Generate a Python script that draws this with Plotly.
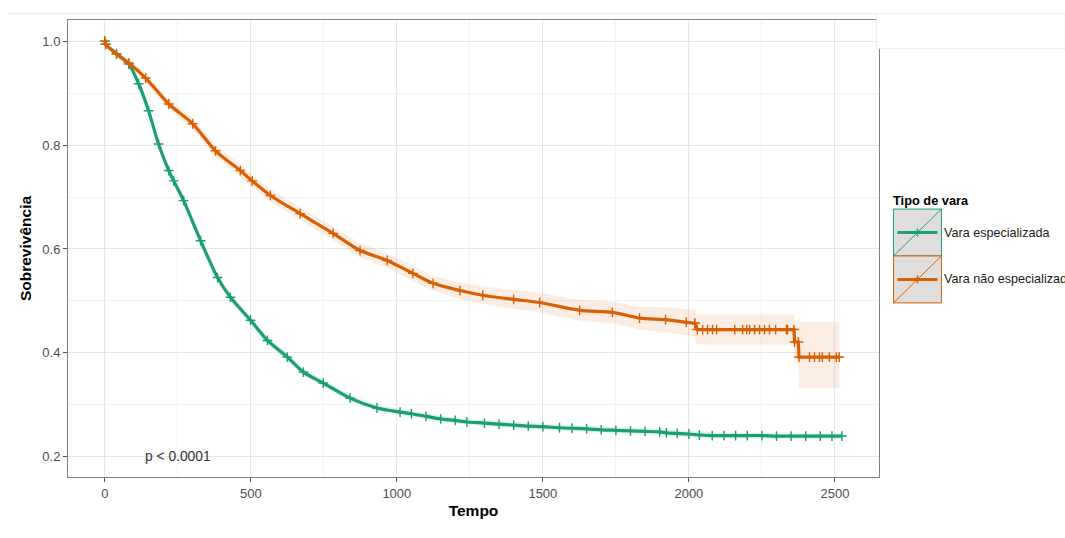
import numpy as np
import plotly.graph_objects as go

# ---------------- data ----------------
green_t = [0, 3, 40, 82, 116, 150, 184, 219, 236, 270, 328, 386, 430, 499, 557, 625, 680, 748, 840, 932,
           1011, 1050, 1100, 1150, 1200, 1240, 1300, 1350, 1400, 1450, 1500, 1557, 1600, 1650, 1700, 1750,
           1800, 1850, 1900, 1923, 1960, 2000, 2036, 2080, 2120, 2160, 2200, 2250, 2300, 2350, 2400, 2450,
           2490, 2524]
green_s = [1.0, 0.994, 0.976, 0.956, 0.918, 0.866, 0.802, 0.751, 0.731, 0.693, 0.616, 0.545, 0.507, 0.463,
           0.424, 0.392, 0.363, 0.342, 0.313, 0.294,
           0.286, 0.283, 0.278, 0.273, 0.270, 0.267, 0.265, 0.263, 0.261, 0.259, 0.258, 0.256, 0.255, 0.254,
           0.252, 0.251, 0.250, 0.249, 0.248, 0.246, 0.245, 0.244, 0.242, 0.241, 0.241, 0.241, 0.241, 0.241,
           0.240, 0.240, 0.240, 0.240, 0.240, 0.240]
green_hw = [0, 0.002, 0.004, 0.005, 0.006, 0.006, 0.007, 0.007, 0.007, 0.007, 0.007, 0.007, 0.007, 0.007,
            0.007, 0.007, 0.007, 0.006, 0.006, 0.006,
            0.006, 0.006, 0.006, 0.006, 0.006, 0.006, 0.006, 0.006, 0.006, 0.006, 0.006, 0.006, 0.006, 0.006,
            0.006, 0.006, 0.006, 0.006, 0.006, 0.006, 0.006, 0.006, 0.006, 0.006, 0.006, 0.006, 0.006, 0.006,
            0.006, 0.006, 0.006, 0.006, 0.006, 0.006]

orange_t = [0, 3, 40, 82, 140, 219, 301, 379, 464, 505, 567, 669, 782, 874, 967, 1055, 1124, 1216, 1294,
            1400, 1489, 1626, 1738, 1831, 1920, 1991, 2020,
            2029, 2047, 2064, 2081, 2095, 2157, 2184, 2198, 2208, 2225, 2242, 2259, 2276, 2297, 2334, 2338, 2360,
            2362, 2375,
            2377, 2413, 2430, 2447, 2457, 2481, 2505, 2515]
orange_s = [1.0, 0.994, 0.975, 0.958, 0.929, 0.879, 0.841, 0.789, 0.751, 0.731, 0.703, 0.668, 0.630, 0.597,
            0.578, 0.553, 0.534, 0.520, 0.511,
            0.503, 0.497, 0.482, 0.478, 0.467, 0.464, 0.459, 0.457,
            0.445, 0.445, 0.445, 0.445, 0.445, 0.445, 0.445, 0.445, 0.445, 0.445, 0.445, 0.445, 0.445, 0.445,
            0.445, 0.445, 0.445,
            0.421, 0.421,
            0.392, 0.392, 0.392, 0.392, 0.392, 0.392, 0.392, 0.392]
orange_lo = [1.0, 0.992, 0.969, 0.950, 0.920, 0.869, 0.830, 0.778, 0.739, 0.719, 0.691, 0.655, 0.617, 0.583,
             0.564, 0.538, 0.519, 0.504, 0.494,
             0.485, 0.478, 0.462, 0.457, 0.445, 0.440, 0.434, 0.431,
             0.416, 0.416, 0.416, 0.416, 0.416, 0.416, 0.416, 0.416, 0.416, 0.416, 0.416, 0.416, 0.416, 0.416,
             0.416, 0.416, 0.416,
             0.380, 0.380,
             0.332, 0.332, 0.332, 0.332, 0.332, 0.332, 0.332, 0.332]
orange_hi = [1.0, 0.996, 0.981, 0.966, 0.938, 0.889, 0.852, 0.800, 0.763, 0.743, 0.715, 0.681, 0.643, 0.611,
             0.592, 0.568, 0.549, 0.536, 0.528,
             0.521, 0.516, 0.502, 0.499, 0.489, 0.488, 0.484, 0.483,
             0.474, 0.474, 0.474, 0.474, 0.474, 0.474, 0.474, 0.474, 0.474, 0.474, 0.474, 0.474, 0.474, 0.474,
             0.474, 0.474, 0.474,
             0.462, 0.462,
             0.459, 0.459, 0.459, 0.459, 0.459, 0.459, 0.459, 0.459]

group_names = ["Vara especializada", "Vara não especializada"]
x_ticks = [0, 500, 1000, 1500, 2000, 2500]
y_ticks = [0.2, 0.4, 0.6, 0.8, 1.0]
p_text = "p < 0.0001"

GREEN = "#1B9E77"
ORANGE = "#D95F02"
FONT = "Liberation Sans, Arial, sans-serif"

# ---------------- figure ----------------
W, H = 1065, 538
L, R, T, B = 67.5, 879.5, 19.5, 477.5  # panel edges in px


def px(x):
    return (x - L) / (R - L)


def py(y):
    return (B - y) / (B - T)


fig = go.Figure()

g_t = np.array(green_t)
g_s = np.array(green_s)
g_hw = np.array(green_hw)

# confidence bands
fig.add_trace(go.Scatter(
    x=np.concatenate([g_t, g_t[::-1]]),
    y=np.concatenate([g_s + g_hw, (g_s - g_hw)[::-1]]),
    fill="toself", fillcolor="rgba(27,158,119,0.13)", line=dict(width=0),
    hoverinfo="skip", showlegend=False, mode="lines"))
fig.add_trace(go.Scatter(
    x=list(orange_t) + list(orange_t)[::-1],
    y=list(orange_hi) + list(orange_lo)[::-1],
    fill="toself", fillcolor="rgba(217,95,2,0.11)", line=dict(width=0),
    hoverinfo="skip", showlegend=False, mode="lines"))

mk = dict(symbol="cross-thin", size=7)

# survival curves with censor marks
fig.add_trace(go.Scatter(
    x=green_t, y=green_s, mode="lines+markers", name=group_names[0],
    line=dict(color=GREEN, width=3.2, shape="spline", smoothing=0.8),
    marker=dict(**mk, color=GREEN, line=dict(width=1.4, color=GREEN)),
    showlegend=False))

split = orange_t.index(2020)
fig.add_trace(go.Scatter(
    x=orange_t[:split + 1], y=orange_s[:split + 1], mode="lines+markers", name=group_names[1],
    line=dict(color=ORANGE, width=3.2, shape="spline", smoothing=0.8),
    marker=dict(**mk, color=ORANGE, line=dict(width=1.4, color=ORANGE)),
    showlegend=False))
fig.add_trace(go.Scatter(
    x=orange_t[split:], y=orange_s[split:], mode="lines+markers", name=group_names[1],
    line=dict(color=ORANGE, width=3.2),
    marker=dict(**mk, color=ORANGE, line=dict(width=1.4, color=ORANGE)),
    showlegend=False))

axis_common = dict(
    showline=True, mirror=True, linecolor="#808080", linewidth=1,
    ticks="outside", ticklen=4, tickcolor="#555555", tickwidth=1,
    tickfont=dict(family=FONT, size=13, color="#4D4D4D"),
    showgrid=True, gridcolor="#E6E6E6", gridwidth=1,
    zeroline=False, automargin=False,
)

fig.update_xaxes(
    range=[-126, 2651], tickmode="array", tickvals=x_ticks,
    ticktext=[str(v) for v in x_ticks],
    minor=dict(tickmode="array", tickvals=[250, 750, 1250, 1750, 2250],
               showgrid=True, gridcolor="#F2F2F2", gridwidth=1, ticks=""),
    title=dict(text="Tempo", font=dict(family=FONT, size=15.5, color="#000000", weight="bold"), standoff=5),
    **axis_common)
fig.update_yaxes(
    range=[0.1612, 1.0407], tickmode="array", tickvals=y_ticks,
    ticktext=["%.1f" % v for v in y_ticks],
    minor=dict(tickmode="array", tickvals=[0.3, 0.5, 0.7, 0.9],
               showgrid=True, gridcolor="#F2F2F2", gridwidth=1, ticks=""),
    title=dict(text="Sobrevivência", font=dict(family=FONT, size=15.5, color="#000000", weight="bold"), standoff=6),
    **axis_common)

annotations = [
    dict(x=249, y=0.2, xref="x", yref="y", text=p_text, showarrow=False,
         font=dict(family=FONT, size=13.8, color="#333333"), xanchor="center", yanchor="middle"),
    dict(x=px(892), y=py(200), xref="paper", yref="paper", text="<b>Tipo de vara</b>", showarrow=False,
         font=dict(family=FONT, size=12.8, color="#000000"), xanchor="left", yanchor="middle"),
]

shapes = []
# top strip artifacts
shapes.append(dict(type="line", xref="paper", yref="paper", x0=px(7), x1=px(877), y0=py(13), y1=py(13),
                   line=dict(color="#ECECEC", width=1), layer="above"))
shapes.append(dict(type="rect", xref="paper", yref="paper", x0=px(877), x1=px(1066), y0=py(13), y1=py(48),
                   fillcolor="#FFFFFF", line=dict(color="#EDEDED", width=1), layer="above"))

# legend keys
for i, (name, col) in enumerate(zip(group_names, [GREEN, ORANGE])):
    top = 209 + 47 * i
    bot = top + 47
    mid = (top + bot) / 2
    shapes.append(dict(type="rect", xref="paper", yref="paper", x0=px(894), x1=px(942), y0=py(bot), y1=py(top),
                       fillcolor="#E0DEDC", line=dict(color=col, width=1), layer="above"))
    shapes.append(dict(type="line", xref="paper", yref="paper", x0=px(894), x1=px(942), y0=py(bot), y1=py(top),
                       line=dict(color=col, width=1), layer="above"))
    shapes.append(dict(type="line", xref="paper", yref="paper", x0=px(898), x1=px(938), y0=py(mid), y1=py(mid),
                       line=dict(color=col, width=3), layer="above"))
    shapes.append(dict(type="line", xref="paper", yref="paper", x0=px(918), x1=px(918), y0=py(mid - 4),
                       y1=py(mid + 4), line=dict(color=col, width=1.5), layer="above"))
    annotations.append(dict(x=px(943), y=py(mid), xref="paper", yref="paper", text=name, showarrow=False,
                            font=dict(family=FONT, size=12.6, color="#1A1A1A"), xanchor="left", yanchor="middle"))

fig.update_layout(
    width=W, height=H,
    margin=dict(l=L, r=W - R, t=T, b=H - B, pad=0),
    paper_bgcolor="#FFFFFF", plot_bgcolor="#FFFFFF",
    font=dict(family=FONT),
    showlegend=False,
    annotations=annotations,
    shapes=shapes,
)

fig.write_html("out.html", config={"displayModeBar": False},
               post_script="document.body.style.margin='0';document.body.style.overflow='hidden';")
